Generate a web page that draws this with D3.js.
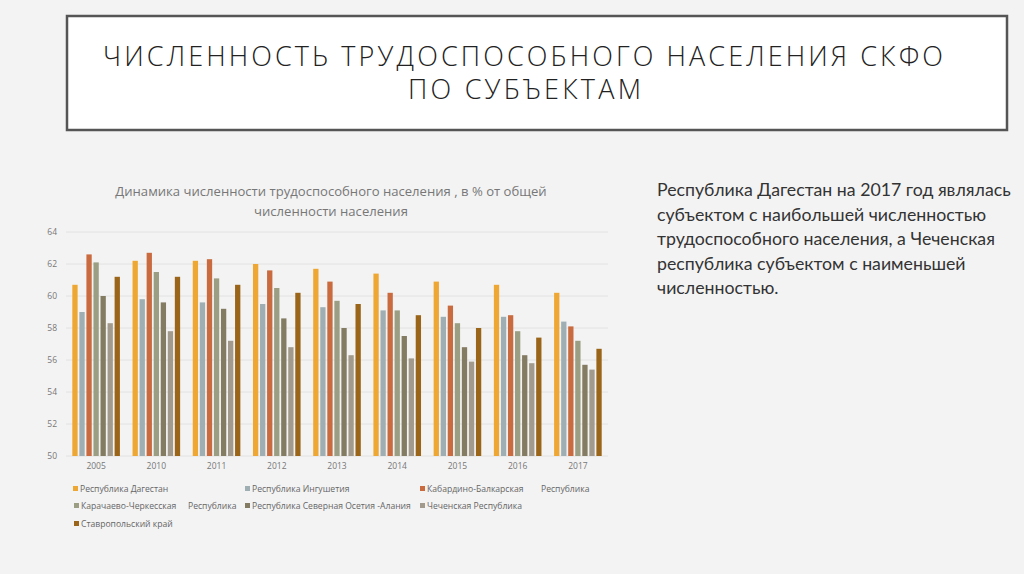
<!DOCTYPE html>
<html><head><meta charset="utf-8">
<script src="https://cdn.jsdelivr.net/npm/d3@7"></script>
<style>
html,body{margin:0;padding:0;background:#f3f3f3;}
svg{display:block;}
</style></head>
<body>
<svg id="c" width="1024" height="574"></svg>
<script>
const years = ["2005","2010","2011","2012","2013","2014","2015","2016","2017"];
const seriesNames = [
  "Республика Дагестан",
  "Республика Ингушетия",
  "Кабардино-Балкарская Республика",
  "Карачаево-Черкесская Республика",
  "Республика Северная Осетия -Алания",
  "Чеченская Республика",
  "Ставропольский край"
];
const dagestan   = [60.7, 62.2, 62.2, 62.0, 61.7, 61.4, 60.9, 60.7, 60.2];
const ingushetia = [59.0, 59.8, 59.6, 59.5, 59.3, 59.1, 58.7, 58.7, 58.4];
const kabardino  = [62.6, 62.7, 62.3, 61.6, 60.9, 60.2, 59.4, 58.8, 58.1];
const karachaevo = [62.1, 61.5, 61.1, 60.5, 59.7, 59.1, 58.3, 57.8, 57.2];
const osetia     = [60.0, 59.6, 59.2, 58.6, 58.0, 57.5, 56.8, 56.3, 55.7];
const chechnya   = [58.3, 57.8, 57.2, 56.8, 56.3, 56.1, 55.9, 55.8, 55.4];
const stavropol  = [61.2, 61.2, 60.7, 60.2, 59.5, 58.8, 58.0, 57.4, 56.7];
const yTicks = [50, 52, 54, 56, 58, 60, 62, 64];
const colors = ["#EFA733", "#9FAEB3", "#C96B3F", "#9B9E83", "#847B63", "#A29A8C", "#9A6518"];

const series = [dagestan, ingushetia, kabardino, karachaevo, osetia, chechnya, stavropol];

const svg = d3.select("#c");

// Title box
svg.append("rect").attr("x", 67).attr("y", 16).attr("width", 940).attr("height", 114)
  .attr("fill", "#ffffff").attr("stroke", "#555555").attr("stroke-width", 2.5);
svg.append("text").attr("x", 103).attr("y", 66)
  .attr("font-family", "Open Sans").attr("font-weight", 300).attr("font-size", 27)
  .attr("fill", "#222").attr("textLength", 840).attr("lengthAdjust", "spacing")
  .text("ЧИСЛЕННОСТЬ ТРУДОСПОСОБНОГО НАСЕЛЕНИЯ СКФО");
svg.append("text").attr("x", 408).attr("y", 99)
  .attr("font-family", "Open Sans").attr("font-weight", 300).attr("font-size", 27)
  .attr("fill", "#222").attr("textLength", 233).attr("lengthAdjust", "spacing")
  .text("ПО СУБЪЕКТАМ");

// Chart title
const ct = svg.append("text").attr("text-anchor", "middle")
  .attr("font-family", "Open Sans").attr("font-size", 13.1).attr("fill", "#777");
ct.append("tspan").attr("x", 331).attr("y", 196).text("Динамика численности трудоспособного населения , в % от общей");
ct.append("tspan").attr("x", 331).attr("y", 216).text("численности населения");

// Scales
const x0 = d3.scaleBand().domain(years).range([66, 608]).paddingInner(0).paddingOuter(0);
const y = d3.scaleLinear().domain([50, 64]).range([456, 232]);
const step = 7.05, bw = 5.3;
const groupW = step * 6 + bw;

// gridlines
svg.append("g").selectAll("line").data(yTicks).join("line")
  .attr("x1", 66).attr("x2", 608)
  .attr("y1", d => y(d)).attr("y2", d => y(d))
  .attr("stroke", "#e2e2e2").attr("stroke-width", 1);

// y axis labels
const yAxis = d3.axisLeft(y).tickValues(yTicks).tickSize(0).tickPadding(0).tickFormat(d3.format("d"));
const ya = svg.append("g").attr("transform", "translate(57,0)").call(yAxis);
ya.select(".domain").remove();
ya.selectAll("text").attr("font-family", "Open Sans").attr("font-size", 8.5).attr("fill", "#777");

// x axis labels
const xAxis = d3.axisBottom(x0).tickSize(0).tickPadding(0);
const xa = svg.append("g").attr("transform", "translate(0,463)").call(xAxis);
xa.select(".domain").remove();
xa.selectAll("text").attr("font-family", "Open Sans").attr("font-size", 8.5).attr("fill", "#777");

// bars
const gBars = svg.append("g");
series.forEach((vals, si) => {
  gBars.append("g").selectAll("rect").data(vals).join("rect")
    .attr("x", (d, i) => x0(years[i]) + x0.bandwidth() / 2 - groupW / 2 + si * step)
    .attr("y", d => y(d))
    .attr("width", bw)
    .attr("height", d => y(50) - y(d))
    .attr("fill", colors[si]);
});

// Legend
const legendItems = [
  {i: 0, x: 73, y: 489, label: "Республика Дагестан"},
  {i: 1, x: 245, y: 489, label: "Республика Ингушетия"},
  {i: 2, x: 420, y: 489, label: "Кабардино-Балкарская", tail: "Республика", tx: 541},
  {i: 3, x: 74, y: 506, label: "Карачаево-Черкесская", tail: "Республика", tx: 188},
  {i: 4, x: 245, y: 506, label: "Республика Северная Осетия -Алания"},
  {i: 5, x: 420, y: 506, label: "Чеченская Республика"},
  {i: 6, x: 74, y: 524, label: "Ставропольский край"}
];
const lg = svg.append("g").selectAll("g").data(legendItems).join("g");
lg.append("rect").attr("x", d => d.x).attr("y", d => d.y - 3).attr("width", 5).attr("height", 5)
  .attr("fill", d => colors[d.i]);
lg.append("text").attr("x", d => d.x + 7).attr("y", d => d.y + 3).attr("font-family", "Open Sans")
  .attr("font-size", 8.6).attr("fill", "#666").text(d => d.label);
lg.filter(d => d.tail).append("text").attr("x", d => d.tx).attr("y", d => d.y + 3).attr("font-family", "Open Sans")
  .attr("font-size", 8.6).attr("fill", "#666").text(d => d.tail);

// Right text
const lines = [
  "Республика Дагестан на 2017 год являлась",
  "субъектом с наибольшей численностью",
  "трудоспособного населения, а Чеченская",
  "республика субъектом с наименьшей",
  "численностью."
];
const rt = svg.append("text").attr("font-family", "Lato").attr("font-size", 18.5).attr("fill", "#333");
const tsp = lines.map((l, k) => rt.append("tspan").attr("x", 657).attr("y", 196 + k * 24.6).text(l));
const w0 = tsp[0].node().getComputedTextLength();
rt.attr("font-size", 18.5 * 354 / w0);
</script>
</body></html>
